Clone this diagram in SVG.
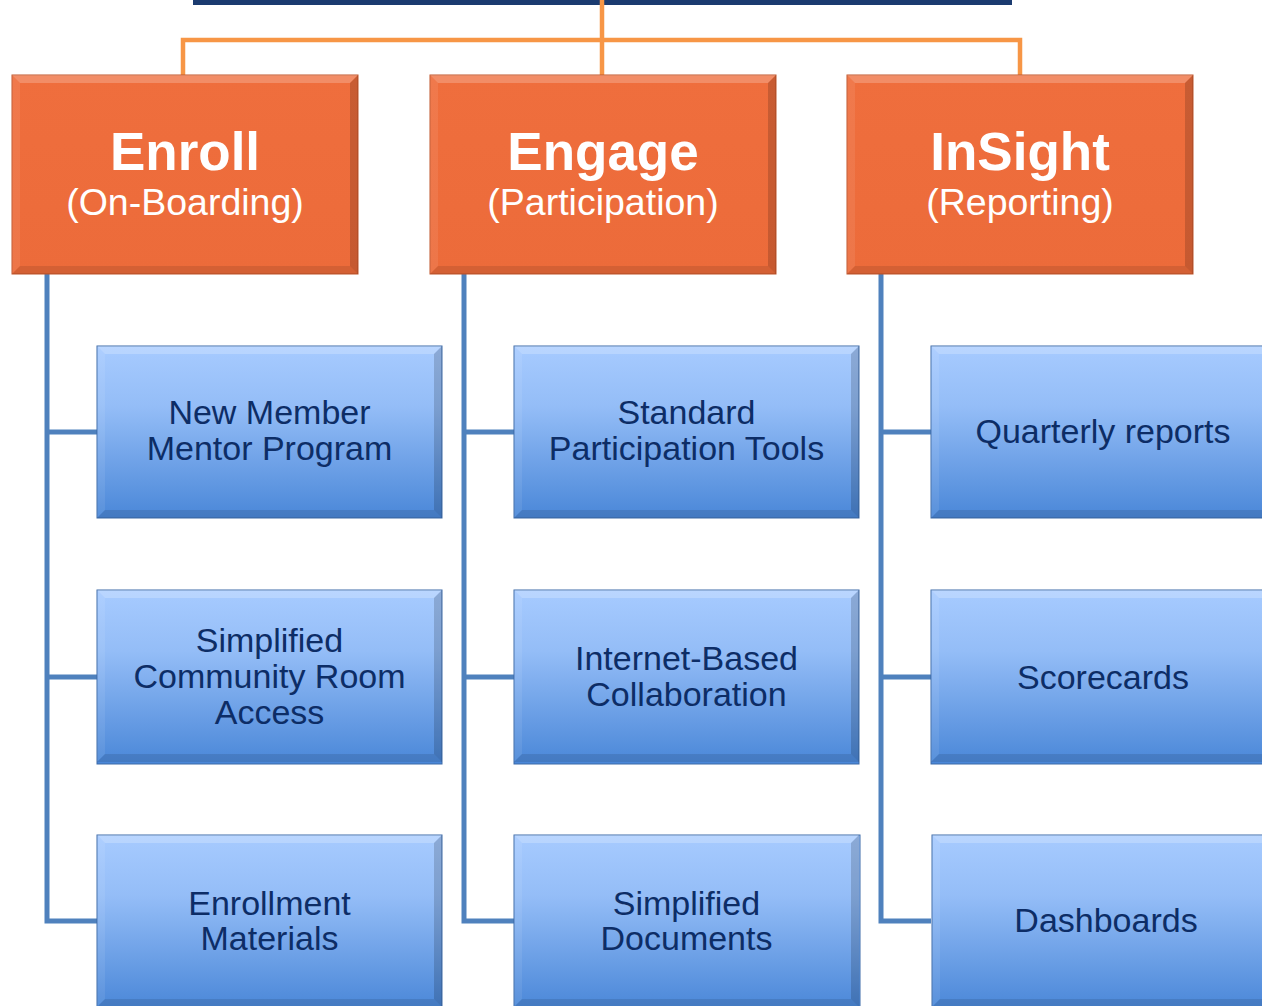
<svg xmlns="http://www.w3.org/2000/svg" width="1262" height="1006" viewBox="0 0 1262 1006">
<defs>
<linearGradient id="gBlue" x1="0" y1="0" x2="0" y2="1">
<stop offset="0" stop-color="#a7cbff"/>
<stop offset="0.35" stop-color="#94bdf7"/>
<stop offset="1" stop-color="#4a87d8"/>
</linearGradient>
<linearGradient id="gOr" x1="0" y1="0" x2="0" y2="1">
<stop offset="0" stop-color="#ef6e3d"/>
<stop offset="1" stop-color="#ec6b3a"/>
</linearGradient>
</defs>
<style>
.conO{fill:none;stroke:#f79646;stroke-width:4.5}
.conB{fill:none;stroke:#4f81bd;stroke-width:5}
.hd1{font-family:"Liberation Sans",Arial,sans-serif;font-weight:bold;font-size:53px;fill:#fff;text-anchor:middle}
.hd2{font-family:"Liberation Sans",Arial,sans-serif;font-size:37.5px;fill:#fff;text-anchor:middle}
.bt{font-family:"Liberation Sans",Arial,sans-serif;font-size:34px;fill:#0d2d66;text-anchor:middle}
.bevT{fill:#fff;opacity:0.22}
.bevL{fill:#fff;opacity:0.08}
.bevR{fill:#000;opacity:0.16}
.bevB{fill:#000;opacity:0.1}
</style>
<rect x="193" y="0" width="819" height="5" fill="#1b3b70"/>
<g id="connectors">
<path class="conO" d="M602,0 V75 M183,75 V40 H1020 V75"/>
<path class="conB" d="M47,274 V921 H97 M47,432 H97 M47,677 H97"/>
<path class="conB" d="M464,274 V921 H514 M464,432 H514 M464,677 H514"/>
<path class="conB" d="M881,274 V921 H931 M881,432 H931 M881,677 H931"/>
</g>
<defs>
<g id="bevO">
<polygon class="bevT" points="0,0 346,0 338,8 8,8"/>
<polygon class="bevL" points="0,0 8,8 8,191 0,199"/>
<polygon class="bevR" points="346,0 346,199 338,191 338,8"/>
<polygon class="bevB" points="0,199 8,191 338,191 346,199"/>
</g>
<g id="bevBl">
<polygon class="bevT" points="0,0 345,0 337,8 8,8"/>
<polygon class="bevL" points="0,0 8,8 8,164 0,172"/>
<polygon class="bevR" points="345,0 345,172 337,164 337,8"/>
<polygon class="bevB" points="0,172 8,164 337,164 345,172"/>
</g>
</defs>
<g id="enroll" transform="translate(12,75)">
<rect width="346" height="199" fill="url(#gOr)" stroke="#c0552b" stroke-width="1"/>
<use href="#bevO"/>
<text class="hd1" x="173" y="95">Enroll</text>
<text class="hd2" x="173" y="140">(On-Boarding)</text>
</g>
<g id="engage" transform="translate(430,75)">
<rect width="346" height="199" fill="url(#gOr)" stroke="#c0552b" stroke-width="1"/>
<use href="#bevO"/>
<text class="hd1" x="173" y="95">Engage</text>
<text class="hd2" x="173" y="140">(Participation)</text>
</g>
<g id="insight" transform="translate(847,75)">
<rect width="346" height="199" fill="url(#gOr)" stroke="#c0552b" stroke-width="1"/>
<use href="#bevO"/>
<text class="hd1" x="173" y="95">InSight</text>
<text class="hd2" x="173" y="140">(Reporting)</text>
</g>
<g id="mentor" transform="translate(97,346)">
<rect width="345" height="172" fill="url(#gBlue)" stroke="#3d6aa8" stroke-width="1"/>
<use href="#bevBl"/>
<text class="bt" x="172.5" y="78">New Member</text>
<text class="bt" x="172.5" y="114">Mentor Program</text>
</g>
<g id="community" transform="translate(97,590)">
<rect width="345" height="174" fill="url(#gBlue)" stroke="#3d6aa8" stroke-width="1"/>
<use href="#bevBl"/>
<text class="bt" x="172.5" y="62">Simplified</text>
<text class="bt" x="172.5" y="98">Community Room</text>
<text class="bt" x="172.5" y="134">Access</text>
</g>
<g id="materials" transform="translate(97,835)">
<rect width="345" height="174" fill="url(#gBlue)" stroke="#3d6aa8" stroke-width="1"/>
<use href="#bevBl"/>
<text class="bt" x="172.5" y="80">Enrollment</text>
<text class="bt" x="172.5" y="115">Materials</text>
</g>
<g id="tools" transform="translate(514,346)">
<rect width="345" height="172" fill="url(#gBlue)" stroke="#3d6aa8" stroke-width="1"/>
<use href="#bevBl"/>
<text class="bt" x="172.5" y="78">Standard</text>
<text class="bt" x="172.5" y="114">Participation Tools</text>
</g>
<g id="collab" transform="translate(514,590)">
<rect width="345" height="174" fill="url(#gBlue)" stroke="#3d6aa8" stroke-width="1"/>
<use href="#bevBl"/>
<text class="bt" x="172.5" y="80">Internet-Based</text>
<text class="bt" x="172.5" y="116">Collaboration</text>
</g>
<g id="documents" transform="translate(514,835)">
<rect width="346" height="174" fill="url(#gBlue)" stroke="#3d6aa8" stroke-width="1"/>
<use href="#bevBl"/>
<text class="bt" x="172.5" y="80">Simplified</text>
<text class="bt" x="172.5" y="115">Documents</text>
</g>
<g id="quarterly" transform="translate(931,346)">
<rect width="345" height="172" fill="url(#gBlue)" stroke="#3d6aa8" stroke-width="1"/>
<use href="#bevBl"/>
<text class="bt" x="172" y="97">Quarterly reports</text>
</g>
<g id="scorecards" transform="translate(931,590)">
<rect width="345" height="174" fill="url(#gBlue)" stroke="#3d6aa8" stroke-width="1"/>
<use href="#bevBl"/>
<text class="bt" x="172" y="99">Scorecards</text>
</g>
<g id="dashboards" transform="translate(932,835)">
<rect width="345" height="174" fill="url(#gBlue)" stroke="#3d6aa8" stroke-width="1"/>
<use href="#bevBl"/>
<text class="bt" x="174" y="97">Dashboards</text>
</g>
</svg>
